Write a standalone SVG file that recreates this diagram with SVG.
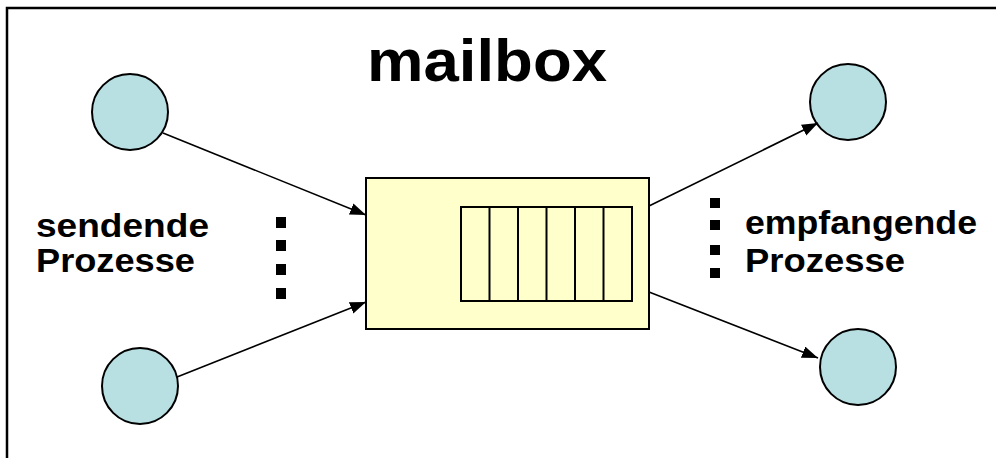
<svg xmlns="http://www.w3.org/2000/svg" width="996" height="458" viewBox="0 0 996 458">
  <style>
    .proc { fill: #b8dfe2; stroke: #000; stroke-width: 2; }
    .box { fill: #ffffcc; stroke: #000; stroke-width: 2; }
    .cell { fill: none; stroke: #000; stroke-width: 2; }
    .conn { stroke: #000; stroke-width: 1.6; fill: none; marker-end: url(#arr); }
    .lbl { font-family: "Liberation Sans", Arial, sans-serif; font-weight: bold; font-size: 33px; fill: #000; }
    .title { font-family: "Liberation Sans", Arial, sans-serif; font-weight: bold; font-size: 60px; fill: #000; }
    .dot { fill: #000; }
  </style>
  <defs>
    <marker id="arr" markerUnits="userSpaceOnUse" markerWidth="18" markerHeight="14" refX="16" refY="6" orient="auto">
      <path d="M0,0 L16,6 L0,12 z" fill="#000"/>
    </marker>
  </defs>
  <rect x="7" y="8" width="1000" height="470" fill="#fff" stroke="#000" stroke-width="2.5"/>
  <text class="title" x="367" y="81" textLength="240" lengthAdjust="spacingAndGlyphs">mailbox</text>

  <g id="mailbox">
    <rect class="box" x="366" y="178" width="283" height="151"/>
    <rect class="cell" x="461" y="207" width="171" height="94"/>
    <line class="cell" x1="489.5" y1="207" x2="489.5" y2="301"/>
    <line class="cell" x1="518" y1="207" x2="518" y2="301"/>
    <line class="cell" x1="546.5" y1="207" x2="546.5" y2="301"/>
    <line class="cell" x1="575" y1="207" x2="575" y2="301"/>
    <line class="cell" x1="603.5" y1="207" x2="603.5" y2="301"/>
  </g>

  <g id="sender1"><circle class="proc" cx="130" cy="112" r="38"/></g>
  <g id="sender2"><circle class="proc" cx="140" cy="386" r="38"/></g>
  <g id="receiver1"><circle class="proc" cx="848" cy="102" r="38"/></g>
  <g id="receiver2"><circle class="proc" cx="858" cy="367" r="38"/></g>

  <g id="connectors">
    <line class="conn" x1="163" y1="133" x2="366" y2="215"/>
    <line class="conn" x1="177" y1="377" x2="366" y2="302"/>
    <line class="conn" x1="649" y1="206" x2="818" y2="123"/>
    <line class="conn" x1="649" y1="292" x2="818" y2="358"/>
  </g>

  <g id="sender-label">
    <text class="lbl" x="36" y="237" textLength="173" lengthAdjust="spacingAndGlyphs">sendende</text>
    <text class="lbl" x="36" y="272" textLength="159" lengthAdjust="spacingAndGlyphs">Prozesse</text>
    <rect class="dot" x="276" y="217" width="10" height="11"/>
    <rect class="dot" x="276" y="240" width="10" height="11"/>
    <rect class="dot" x="276" y="264" width="10" height="11"/>
    <rect class="dot" x="276" y="288" width="10" height="11"/>
  </g>

  <g id="receiver-label">
    <text class="lbl" x="745" y="234" textLength="232" lengthAdjust="spacingAndGlyphs">empfangende</text>
    <text class="lbl" x="745" y="272" textLength="160" lengthAdjust="spacingAndGlyphs">Prozesse</text>
    <rect class="dot" x="710" y="198" width="10" height="10"/>
    <rect class="dot" x="710" y="220" width="10" height="10"/>
    <rect class="dot" x="710" y="245" width="10" height="10"/>
    <rect class="dot" x="710" y="268" width="10" height="10"/>
  </g>
</svg>
